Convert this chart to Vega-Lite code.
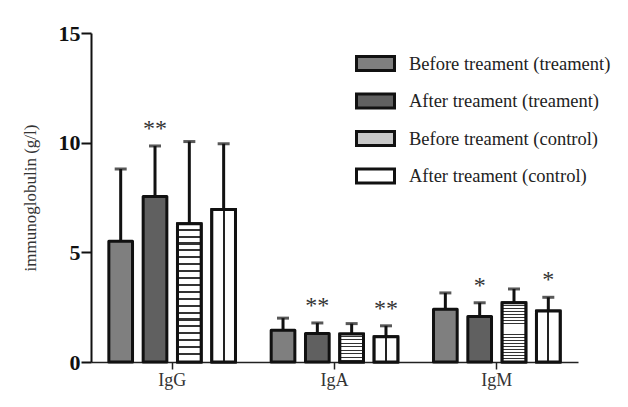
{
  "$schema": "https://vega.github.io/schema/vega-lite/v6.json",
  "width": 487,
  "height": 329,
  "autosize": {"type": "none"},
  "padding": {"left": 91, "top": 33, "right": 50, "bottom": 45},
  "background": "white",
  "config": {
    "view": {"stroke": null},
    "font": "Liberation Serif"
  },
  "data": {
    "values": [
      {"ig": "IgG", "group": "Before treament (treament)", "mean": 5.5, "upper": 8.8, "sig": ""},
      {"ig": "IgG", "group": "After treament (treament)", "mean": 7.55, "upper": 9.85, "sig": "**"},
      {"ig": "IgG", "group": "Before treament (control)", "mean": 6.3, "upper": 10.05, "sig": ""},
      {"ig": "IgG", "group": "After treament (control)", "mean": 6.95, "upper": 9.95, "sig": ""},
      {"ig": "IgA", "group": "Before treament (treament)", "mean": 1.45, "upper": 2.0, "sig": ""},
      {"ig": "IgA", "group": "After treament (treament)", "mean": 1.3, "upper": 1.78, "sig": "**"},
      {"ig": "IgA", "group": "Before treament (control)", "mean": 1.28, "upper": 1.75, "sig": ""},
      {"ig": "IgA", "group": "After treament (control)", "mean": 1.15, "upper": 1.65, "sig": "**"},
      {"ig": "IgM", "group": "Before treament (treament)", "mean": 2.4, "upper": 3.15, "sig": ""},
      {"ig": "IgM", "group": "After treament (treament)", "mean": 2.08, "upper": 2.7, "sig": "*"},
      {"ig": "IgM", "group": "Before treament (control)", "mean": 2.7, "upper": 3.33, "sig": ""},
      {"ig": "IgM", "group": "After treament (control)", "mean": 2.33, "upper": 2.95, "sig": "*"}
    ]
  },
  "encoding": {
    "x": {
      "field": "ig", "type": "nominal", "sort": ["IgG", "IgA", "IgM"],
      "scale": {"paddingInner": 0, "paddingOuter": 0},
      "axis": {
        "title": null, "labelAngle": 0, "domainColor": "#222", "domainWidth": 1.5,
        "tickColor": "#222", "tickWidth": 1.5, "tickSize": 7,
        "labelFont": "Liberation Serif", "labelFontSize": 18, "labelColor": "#333", "labelPadding": 2
      }
    },
    "xOffset": {
      "field": "group", "type": "nominal",
      "sort": ["Before treament (treament)", "After treament (treament)", "Before treament (control)", "After treament (control)"],
      "scale": {"paddingInner": 0.31, "paddingOuter": 0.52}
    }
  },
  "layer": [
    {
      "mark": {"type": "rule", "stroke": "#111", "strokeWidth": 3},
      "encoding": {
        "y": {"field": "mean", "type": "quantitative", "scale": {"domain": [0, 15], "nice": false}},
        "y2": {"field": "upper"}
      }
    },
    {
      "mark": {"type": "tick", "orient": "horizontal", "color": "#111", "size": 12, "thickness": 3},
      "encoding": {
        "y": {"field": "upper", "type": "quantitative"}
      }
    },
    {
      "mark": {"type": "bar", "stroke": "#111", "strokeWidth": 3, "strokeJoin": "round"},
      "encoding": {
        "y": {
          "field": "mean", "type": "quantitative",
          "scale": {"domain": [0, 15], "nice": false},
          "axis": {
            "values": [0, 5, 10, 15], "grid": false, "title": "immunoglobulin (g/l)",
            "domainColor": "#111", "domainWidth": 2, "tickColor": "#111", "tickWidth": 2, "tickSize": 10,
            "labelFont": "Liberation Serif", "labelFontSize": 22, "labelFontWeight": "bold", "labelColor": "#111", "labelPadding": 1,
            "titleFont": "Liberation Serif", "titleFontSize": 17, "titleFontWeight": "normal", "titleColor": "#333", "titlePadding": 19
          }
        },
        "fill": {
          "field": "group", "type": "nominal",
          "sort": ["Before treament (treament)", "After treament (treament)", "Before treament (control)", "After treament (control)"],
          "scale": {"range": ["#7f7f7f", "#606060", "#c8c8c8", "#ffffff"]},
          "legend": {
            "title": null, "orient": "none", "legendX": 264, "legendY": 10,
            "padding": 0, "rowPadding": 3.5,
            "symbolType": "M-1,-0.37H1V0.37H-1Z", "symbolSize": 1444,
            "symbolStrokeColor": "#111", "symbolStrokeWidth": 3,
            "labelFont": "Liberation Serif", "labelFontSize": 18.5, "labelColor": "#222", "labelOffset": 13, "labelLimit": 300
          }
        }
      }
    },
    {
      "transform": [{"filter": "datum.group === 'Before treament (control)'"}],
      "mark": {"type": "bar", "stroke": "#111", "strokeWidth": 3,
        "fill": {"gradient": "linear", "x1": 0, "y1": 0, "x2": 0, "y2": 1, "stops": [
          {"offset": 0, "color": "#ffffff"}, {"offset": 0.035, "color": "#ffffff"}, {"offset": 0.035, "color": "#333333"}, {"offset": 0.05, "color": "#333333"},
          {"offset": 0.05, "color": "#ffffff"}, {"offset": 0.085, "color": "#ffffff"}, {"offset": 0.085, "color": "#333333"}, {"offset": 0.1, "color": "#333333"},
          {"offset": 0.1, "color": "#ffffff"}, {"offset": 0.135, "color": "#ffffff"}, {"offset": 0.135, "color": "#333333"}, {"offset": 0.15, "color": "#333333"},
          {"offset": 0.15, "color": "#ffffff"}, {"offset": 0.185, "color": "#ffffff"}, {"offset": 0.185, "color": "#333333"}, {"offset": 0.2, "color": "#333333"},
          {"offset": 0.2, "color": "#ffffff"}, {"offset": 0.235, "color": "#ffffff"}, {"offset": 0.235, "color": "#333333"}, {"offset": 0.25, "color": "#333333"},
          {"offset": 0.25, "color": "#ffffff"}, {"offset": 0.285, "color": "#ffffff"}, {"offset": 0.285, "color": "#333333"}, {"offset": 0.3, "color": "#333333"},
          {"offset": 0.3, "color": "#ffffff"}, {"offset": 0.335, "color": "#ffffff"}, {"offset": 0.335, "color": "#333333"}, {"offset": 0.35, "color": "#333333"},
          {"offset": 0.35, "color": "#ffffff"}, {"offset": 0.385, "color": "#ffffff"}, {"offset": 0.385, "color": "#333333"}, {"offset": 0.4, "color": "#333333"},
          {"offset": 0.4, "color": "#ffffff"}, {"offset": 0.435, "color": "#ffffff"}, {"offset": 0.435, "color": "#333333"}, {"offset": 0.45, "color": "#333333"},
          {"offset": 0.45, "color": "#ffffff"}, {"offset": 0.485, "color": "#ffffff"}, {"offset": 0.485, "color": "#333333"}, {"offset": 0.5, "color": "#333333"},
          {"offset": 0.5, "color": "#ffffff"}, {"offset": 0.535, "color": "#ffffff"}, {"offset": 0.535, "color": "#333333"}, {"offset": 0.55, "color": "#333333"},
          {"offset": 0.55, "color": "#ffffff"}, {"offset": 0.585, "color": "#ffffff"}, {"offset": 0.585, "color": "#333333"}, {"offset": 0.6, "color": "#333333"},
          {"offset": 0.6, "color": "#ffffff"}, {"offset": 0.635, "color": "#ffffff"}, {"offset": 0.635, "color": "#333333"}, {"offset": 0.65, "color": "#333333"},
          {"offset": 0.65, "color": "#ffffff"}, {"offset": 0.685, "color": "#ffffff"}, {"offset": 0.685, "color": "#333333"}, {"offset": 0.7, "color": "#333333"},
          {"offset": 0.7, "color": "#ffffff"}, {"offset": 0.735, "color": "#ffffff"}, {"offset": 0.735, "color": "#333333"}, {"offset": 0.75, "color": "#333333"},
          {"offset": 0.75, "color": "#ffffff"}, {"offset": 0.785, "color": "#ffffff"}, {"offset": 0.785, "color": "#333333"}, {"offset": 0.8, "color": "#333333"},
          {"offset": 0.8, "color": "#ffffff"}, {"offset": 0.835, "color": "#ffffff"}, {"offset": 0.835, "color": "#333333"}, {"offset": 0.85, "color": "#333333"},
          {"offset": 0.85, "color": "#ffffff"}, {"offset": 0.885, "color": "#ffffff"}, {"offset": 0.885, "color": "#333333"}, {"offset": 0.9, "color": "#333333"},
          {"offset": 0.9, "color": "#ffffff"}, {"offset": 0.935, "color": "#ffffff"}, {"offset": 0.935, "color": "#333333"}, {"offset": 0.95, "color": "#333333"},
          {"offset": 0.95, "color": "#ffffff"}, {"offset": 1, "color": "#ffffff"}
        ]}},
      "encoding": {
        "y": {"field": "mean", "type": "quantitative"}
      }
    },
    {
      "transform": [{"filter": "datum.group === 'After treament (control)'"}],
      "mark": {"type": "bar", "stroke": "#111", "strokeWidth": 3,
        "fill": {"gradient": "linear", "x1": 0, "y1": 0, "x2": 1, "y2": 0, "stops": [
          {"offset": 0, "color": "#ffffff"}, {"offset": 0.455, "color": "#ffffff"}, {"offset": 0.455, "color": "#222222"},
          {"offset": 0.545, "color": "#222222"}, {"offset": 0.545, "color": "#ffffff"}, {"offset": 1, "color": "#ffffff"}
        ]}},
      "encoding": {
        "y": {"field": "mean", "type": "quantitative"}
      }
    },
    {
      "mark": {"type": "text", "baseline": "middle", "dy": -17, "fontSize": 24, "font": "Liberation Serif", "color": "#333"},
      "encoding": {
        "y": {"field": "upper", "type": "quantitative"},
        "text": {"field": "sig"}
      }
    }
  ]
}
